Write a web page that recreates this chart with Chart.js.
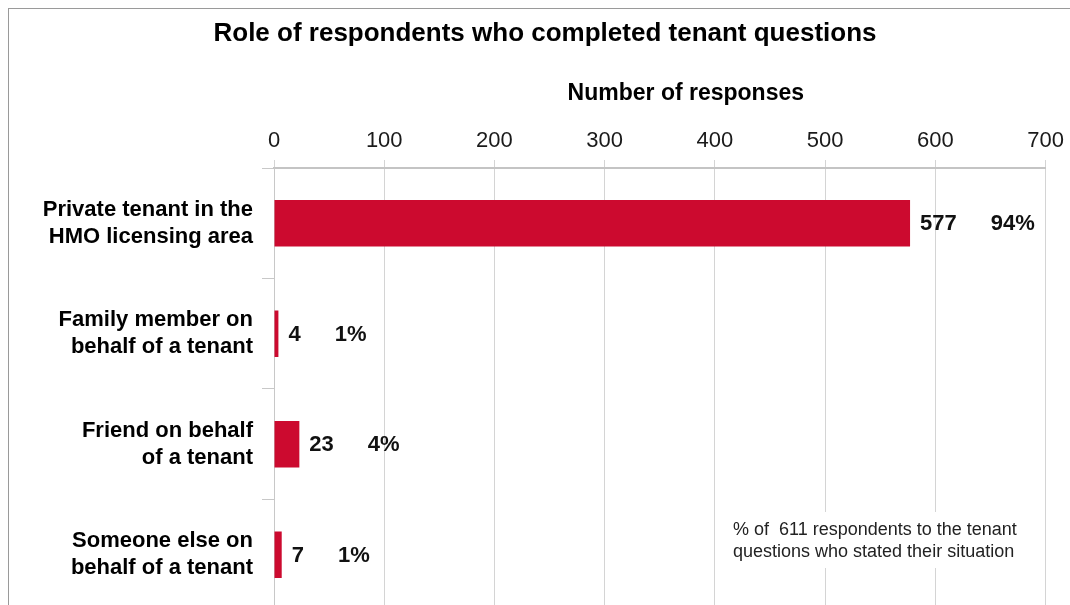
<!DOCTYPE html>
<html>
<head>
<meta charset="utf-8">
<script src="https://cdn.jsdelivr.net/npm/chart.js@4"></script>
<style>
  html, body { margin: 0; padding: 0; background: #fff; }
  #wrap { position: relative; width: 1070px; height: 605px; overflow: hidden; }
  #frame { position: absolute; left: 8px; top: 8px; width: 1200px; height: 1000px;
           border-left: 1px solid #9a9a9a; border-top: 1px solid #9a9a9a; }
  #box { position: absolute; left: 0; top: 0; width: 1070px; height: 646px; }
</style>
</head>
<body>
<div id="wrap">
  <div id="frame"></div>
  <div id="box"><canvas id="chart"></canvas></div>
</div>
<script>
const categories = [
    ['Private tenant in the', 'HMO licensing area'],
    ['Family member on', 'behalf of a tenant'],
    ['Friend on behalf', 'of a tenant'],
    ['Someone else on', 'behalf of a tenant']
];
const responses = [577, 4, 23, 7];
const percentLabels = ['94%', '1%', '4%', '1%'];
const axisMin = 0;
const axisMax = 700;
const axisStep = 100;
const chartTitle = 'Role of respondents who completed tenant questions';
const axisTitle = 'Number of responses';
const noteLines = ['% of  611 respondents to the tenant', 'questions who stated their situation'];

const FONT = "'Liberation Sans', Arial, sans-serif";
Chart.defaults.font.family = FONT;

// chart title and axis title (sit a little right of centre in the original)
const titles = {
    id: 'titles',
    afterDraw(chart) {
        const ctx = chart.ctx;
        const area = chart.chartArea;
        ctx.save();
        ctx.fillStyle = '#000';
        ctx.textAlign = 'center';
        ctx.textBaseline = 'middle';
        ctx.font = 'bold 26px ' + FONT;
        ctx.fillText(chartTitle, 545, 34);
        ctx.font = 'bold 23px ' + FONT;
        ctx.fillText(axisTitle, (area.left + area.right) / 2 + 26, 94);
        ctx.restore();
    }
};

// value + percentage written to the right of each bar
const barLabels = {
    id: 'barLabels',
    afterDatasetsDraw(chart) {
        const ctx = chart.ctx;
        const meta = chart.getDatasetMeta(0);
        ctx.save();
        ctx.font = 'bold 22px ' + FONT;
        ctx.fillStyle = '#111';
        ctx.textBaseline = 'middle';
        ctx.textAlign = 'left';
        meta.data.forEach((bar, i) => {
            const txt = String(responses[i]);
            const x = bar.x + 10;
            ctx.fillText(txt, x, bar.y + 1);
            ctx.fillText(percentLabels[i], x + ctx.measureText(txt).width + 34, bar.y + 1);
        });
        ctx.restore();
    }
};

// note box in the lower right
const note = {
    id: 'note',
    afterDatasetsDraw(chart) {
        const ctx = chart.ctx;
        ctx.save();
        ctx.fillStyle = '#fff';
        ctx.fillRect(722, 512, 318, 56);
        ctx.font = '18px ' + FONT;
        ctx.fillStyle = '#222';
        ctx.textBaseline = 'middle';
        ctx.textAlign = 'left';
        noteLines.forEach((l, i) => ctx.fillText(l, 733, 530 + i * 22));
        ctx.restore();
    }
};

new Chart(document.getElementById('chart'), {
    type: 'bar',
    data: {
        labels: categories,
        datasets: [{
            data: responses,
            backgroundColor: '#CC0A2F',
            barPercentage: 0.42,
            categoryPercentage: 1
        }]
    },
    options: {
        indexAxis: 'y',
        responsive: true,
        maintainAspectRatio: false,
        animation: false,
        layout: { padding: { left: 0, right: 24, top: 68, bottom: 0 } },
        plugins: {
            legend: { display: false },
            tooltip: { enabled: false },
            title: { display: false }
        },
        scales: {
            x: {
                position: 'top',
                min: axisMin,
                max: axisMax,
                afterFit: s => { s.height = 100; },
                ticks: { stepSize: axisStep, color: '#1a1a1a', font: { size: 22 }, padding: 6 },
                grid: { color: '#d4d4d4', tickLength: 8 },
                border: { color: '#c4c4c4', width: 2 }
            },
            y: {
                afterFit: s => { s.width = 274; },
                ticks: {
                    color: '#000',
                    font: { size: 22, weight: 'bold', lineHeight: 1.23 },
                    padding: 9
                },
                grid: { drawOnChartArea: false, drawTicks: true, tickLength: 12, color: '#c8c8c8', offset: true },
                border: { color: '#c8c8c8' }
            }
        }
    },
    plugins: [barLabels, note, titles]
});
</script>
</body>
</html>
